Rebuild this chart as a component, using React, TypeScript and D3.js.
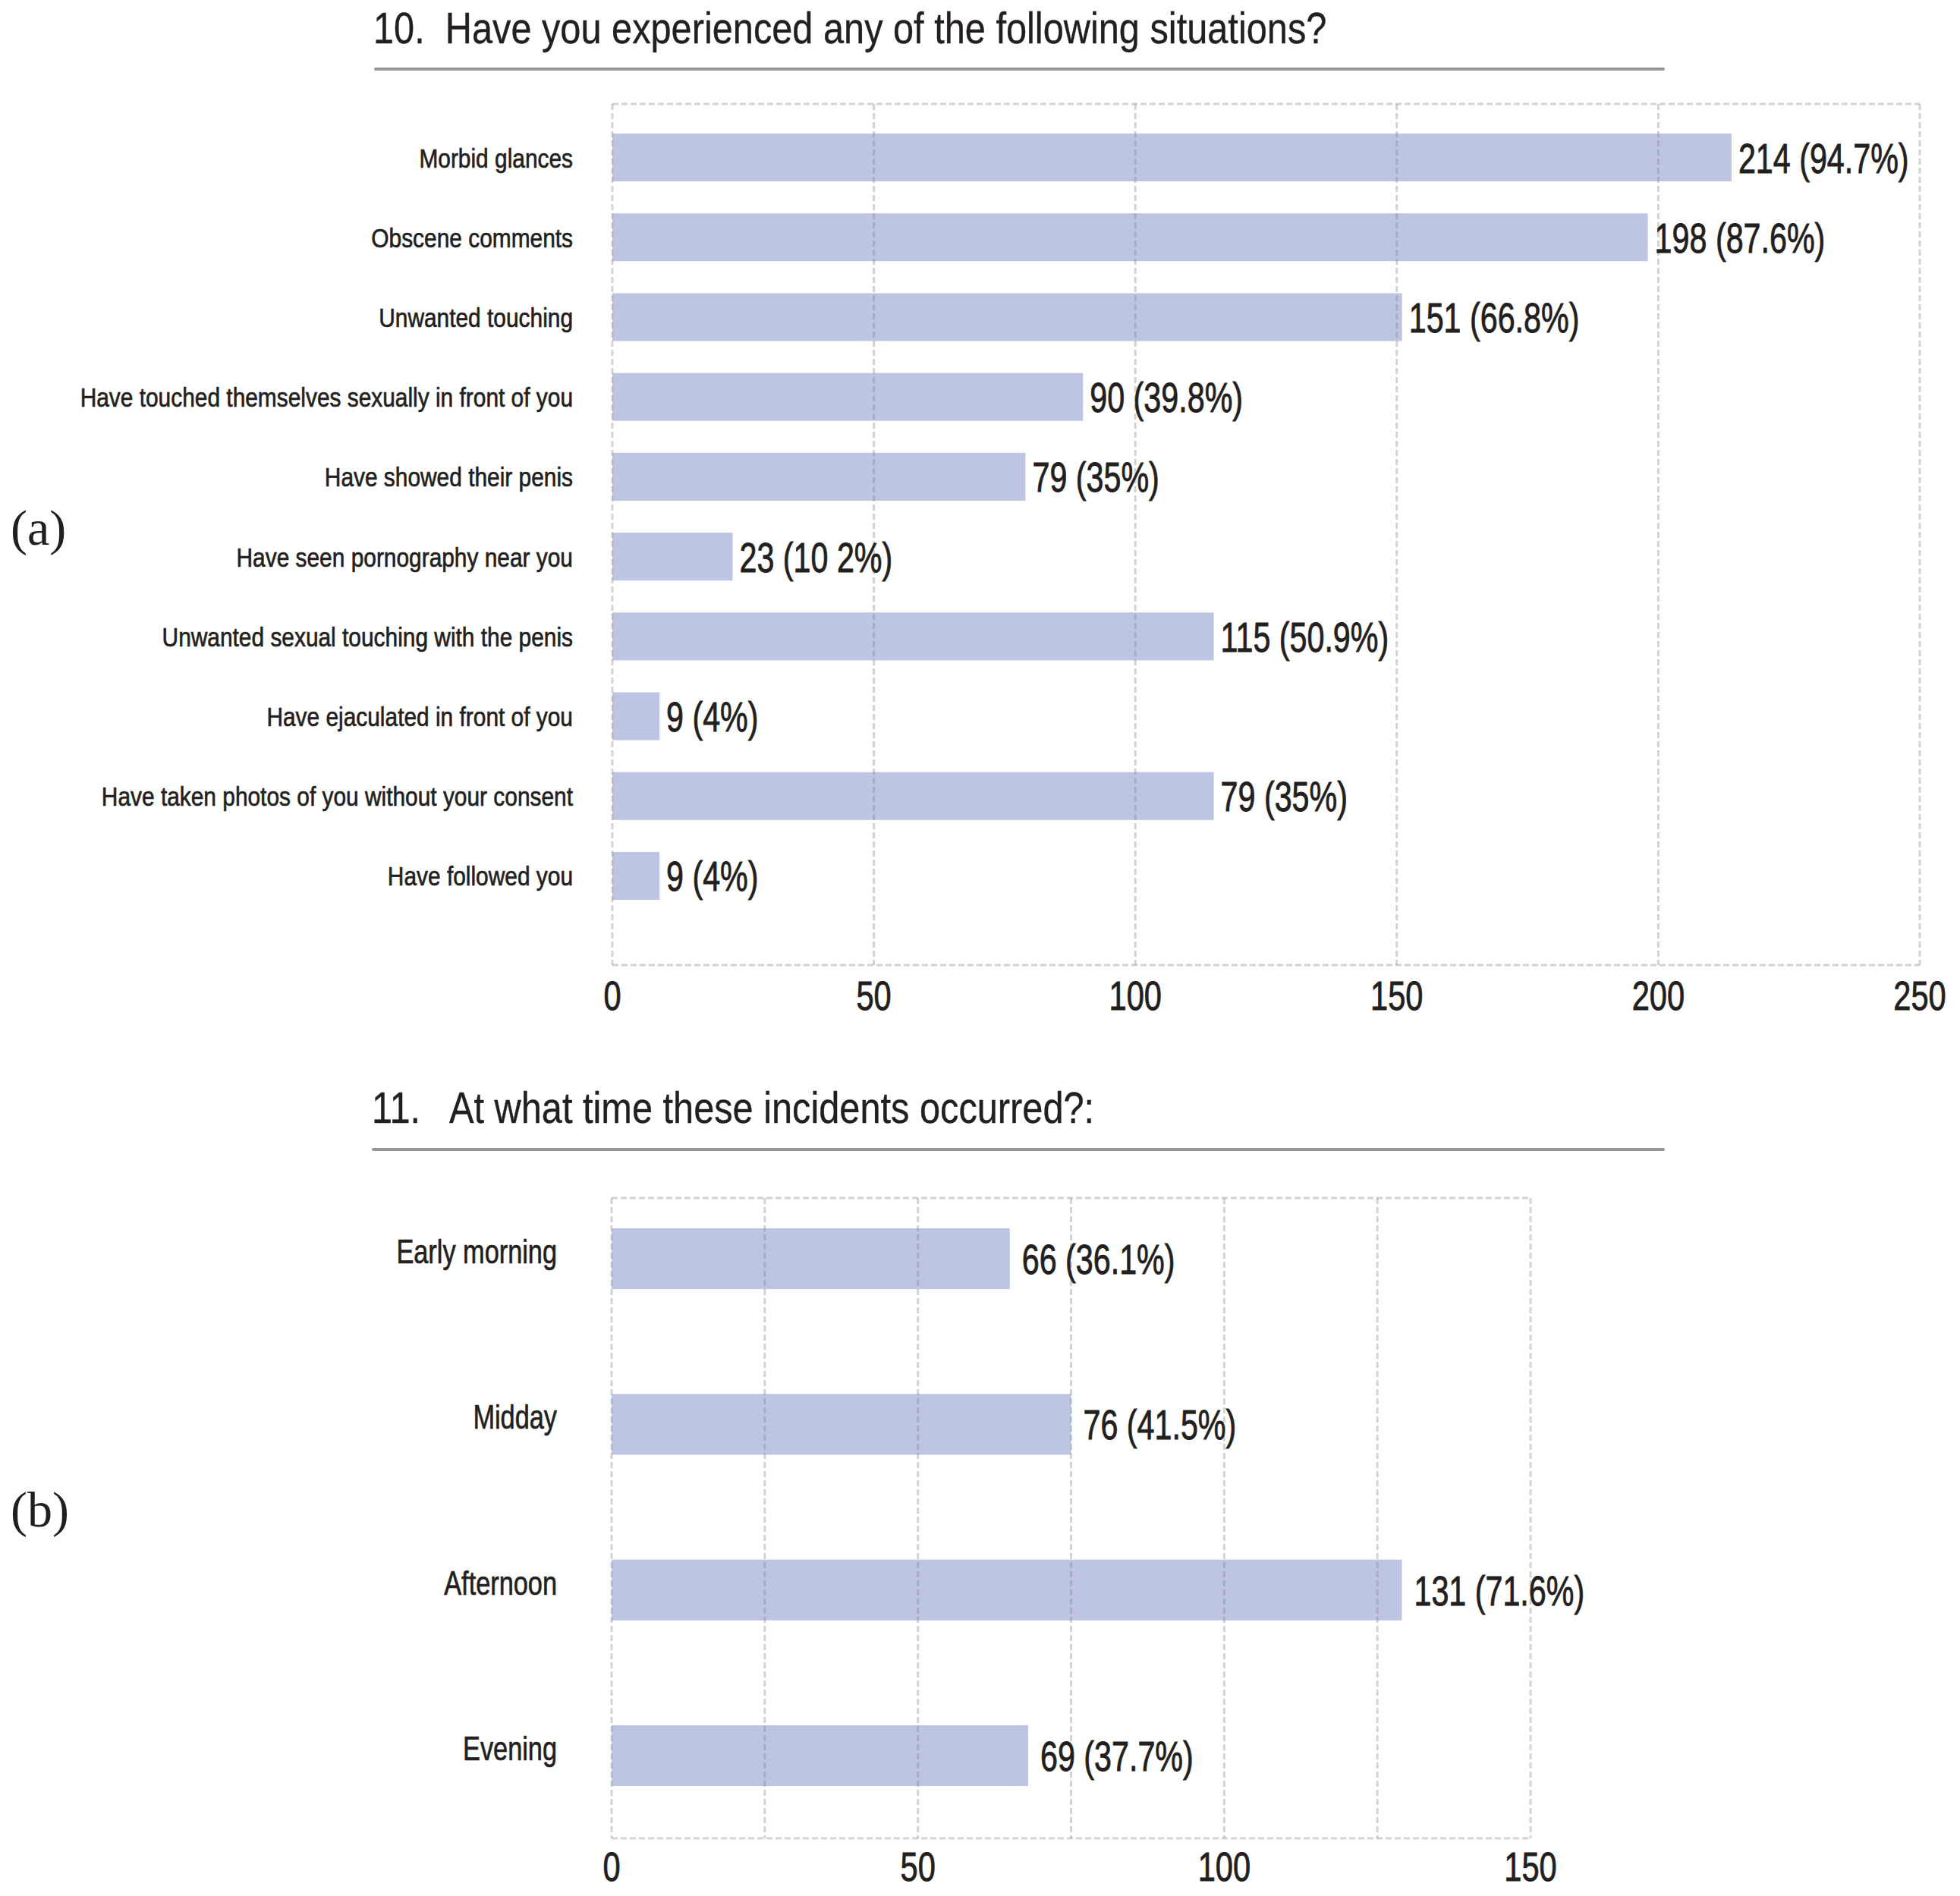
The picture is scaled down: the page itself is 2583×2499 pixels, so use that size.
import * as d3 from 'd3';

// Question 10 — situations experienced
const situations = [
  'Morbid glances',
  'Obscene comments',
  'Unwanted touching',
  'Have touched themselves sexually in front of you',
  'Have showed their penis',
  'Have seen pornography near you',
  'Unwanted sexual touching with the penis',
  'Have ejaculated in front of you',
  'Have taken photos of you without your consent',
  'Have followed you',
];
// bar lengths as drawn in the figure
const situationCounts = [214, 198, 151, 90, 79, 23, 115, 9, 115, 9];
const situationLabels = [
  '214 (94.7%)',
  '198 (87.6%)',
  '151 (66.8%)',
  '90 (39.8%)',
  '79 (35%)',
  '23 (10 2%)',
  '115 (50.9%)',
  '9 (4%)',
  '79 (35%)',
  '9 (4%)',
];
const situationTicks = [0, 50, 100, 150, 200, 250];

// Question 11 — time of the incidents
const times = ['Early morning', 'Midday', 'Afternoon', 'Evening'];
const timeCounts = [65, 75, 129, 68];
const timeLabels = ['66 (36.1%)', '76 (41.5%)', '131 (71.6%)', '69 (37.7%)'];
const timeGrid = [0, 25, 50, 75, 100, 125, 150];
const timeTicks = [0, 50, 100, 150];

const W = 2583;
const H = 2499;
const SANS = '"Liberation Sans", Arial, Helvetica, sans-serif';
const SERIF = '"Liberation Serif", "Times New Roman", serif';
const INK = '#231f20';
const BAR = '#bec5e2';
const GRID = '#808080';

// condensed text: the figure uses a narrow sans
function CText({ x, y, sx, size, anchor = 'start', weight = 0.7, children }: any) {
  return (
    <text
      transform={`translate(${x},${y}) scale(${sx},1)`}
      fontSize={size}
      fontFamily={SANS}
      textAnchor={anchor}
      fill={INK}
      stroke={INK}
      strokeWidth={weight}
      style={{ whiteSpace: 'pre' }}
    >
      {children}
    </text>
  );
}

interface PanelProps {
  cats: string[];
  counts: number[];
  labels: string[];
  domainMax: number;
  grid: number[];
  ticks: number[];
  xRange: [number, number];
  yRange: [number, number];
  frameBottom: number;
  padInner: number;
  padOuter: number;
  catX: number;
  catSize: number;
  catSx: number;
  catDy: number;
  valGap: number;
  tickDy: number;
}

function Panel(p: PanelProps) {
  const x = d3.scaleLinear().domain([0, p.domainMax]).range(p.xRange);
  const y = d3
    .scaleBand<string>()
    .domain(p.cats)
    .range(p.yRange)
    .paddingInner(p.padInner)
    .paddingOuter(p.padOuter);
  const top = p.yRange[0];
  const bw = y.bandwidth();

  return (
    <g>
      {p.cats.map((c, i) => (
        <rect
          key={c + i}
          x={x(0)}
          y={y(c)}
          width={x(p.counts[i]) - x(0)}
          height={bw}
          fill={BAR}
        />
      ))}
      {/* dashed frame and gridlines, drawn over the bars */}
      <g stroke={GRID} strokeOpacity={0.35} strokeWidth={3} strokeDasharray="8 4" fill="none">
        {p.grid.map((v) => (
          <line key={v} x1={x(v)} x2={x(v)} y1={top} y2={p.frameBottom} />
        ))}
        <line x1={x(0)} x2={x(p.domainMax)} y1={top} y2={top} />
        <line x1={x(0)} x2={x(p.domainMax)} y1={p.frameBottom} y2={p.frameBottom} />
      </g>
      {p.cats.map((c, i) => (
        <CText
          key={'c' + i}
          x={p.catX}
          y={(y(c) as number) + bw / 2 + p.catDy}
          sx={p.catSx}
          size={p.catSize}
          anchor="end"
        >
          {c}
        </CText>
      ))}
      {p.cats.map((c, i) => (
        <CText
          key={'v' + i}
          x={x(p.counts[i]) + p.valGap}
          y={(y(c) as number) + bw / 2 + 20}
          sx={0.75}
          size={55}
          weight={0.9}
        >
          {p.labels[i]}
        </CText>
      ))}
      {p.ticks.map((t) => (
        <CText
          key={'t' + t}
          x={x(t)}
          y={p.frameBottom + p.tickDy}
          sx={0.77}
          size={54}
          anchor="middle"
          weight={0.9}
        >
          {String(t)}
        </CText>
      ))}
    </g>
  );
}

export default function App() {
  return (
    <svg
      width={W}
      height={H}
      viewBox={`0 0 ${W} ${H}`}
      style={{ position: 'absolute', left: 0, top: 0, background: '#fff' }}
    >
      <rect width={W} height={H} fill="#fff" />

      {/* (a) */}
      <CText x={492} y={57} sx={0.84} size={58} weight={0.4}>
        {'10.  Have you experienced any of the following situations?'}
      </CText>
      <line x1={495} x2={2192} y1={91} y2={91} stroke="#939796" strokeWidth={4} strokeLinecap="round" />
      <text x={14} y={718} fontFamily={SERIF} fontSize={66} fill={INK}>
        (a)
      </text>
      <Panel
        cats={situations}
        counts={situationCounts}
        labels={situationLabels}
        domainMax={250}
        grid={situationTicks}
        ticks={situationTicks}
        xRange={[807, 2530]}
        yRange={[137, 1225]}
        frameBottom={1272}
        padInner={0.401}
        padOuter={0.371}
        catX={755}
        catSize={36}
        catSx={0.83}
        catDy={13}
        valGap={9}
        tickDy={59}
      />

      {/* (b) */}
      <CText x={490} y={1480} sx={0.84} size={58} weight={0.4}>
        {'11.   At what time these incidents occurred?:'}
      </CText>
      <line x1={492} x2={2192} y1={1515} y2={1515} stroke="#939796" strokeWidth={4} strokeLinecap="round" />
      <text x={14} y={2012} fontFamily={SERIF} fontSize={66} fill={INK}>
        (b)
      </text>
      <Panel
        cats={times}
        counts={timeCounts}
        labels={timeLabels}
        domainMax={150}
        grid={timeGrid}
        ticks={timeTicks}
        xRange={[806, 2017]}
        yRange={[1579, 2394]}
        frameBottom={2423}
        padInner={0.633}
        padOuter={0.183}
        catX={734}
        catSize={44}
        catSx={0.78}
        catDy={6}
        valGap={16}
        tickDy={56}
      />
    </svg>
  );
}
